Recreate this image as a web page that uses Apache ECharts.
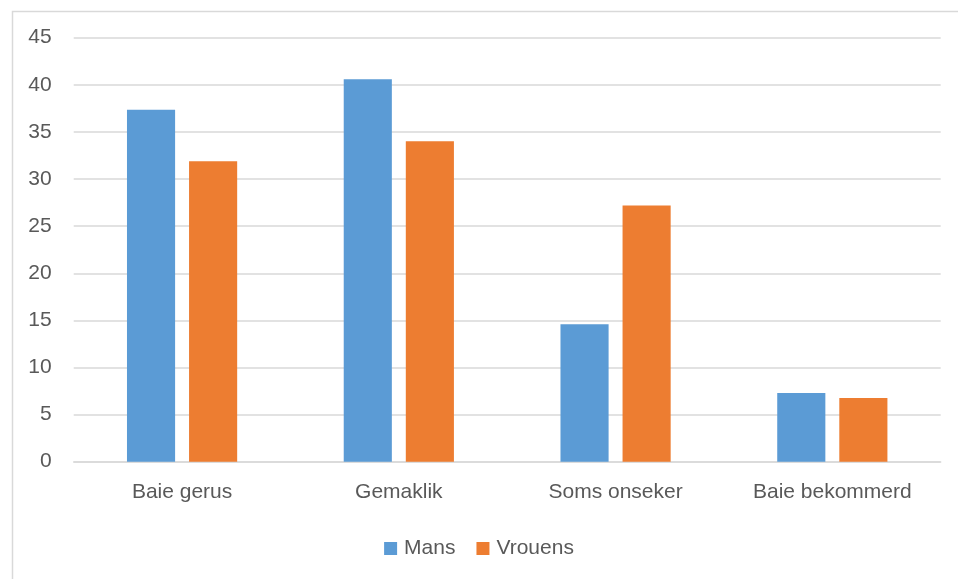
<!DOCTYPE html>
<html><head><meta charset="utf-8">
<script src="https://cdn.jsdelivr.net/npm/echarts@6/dist/echarts.min.js"></script>
<style>html,body{margin:0;padding:0;background:#fff}#c{width:958px;height:579px}</style>
</head><body><div id="c"></div>
<script>
const categories = ['Baie gerus', 'Gemaklik', 'Soms onseker', 'Baie bekommerd'];
const mans = [37.35, 40.6, 14.6, 7.3];
const vrouens = [31.9, 34.0, 27.2, 6.75];
const seriesNames = ['Mans', 'Vrouens'];

const chart = echarts.init(document.getElementById('c'), null, {renderer: 'canvas'});
const font = 'Liberation Sans';
chart.setOption({
  animation: false,
  backgroundColor: '#fff',
  graphic: [{
    type: 'rect', left: 10, top: 9, shape: {width: 947, height: 600},
    style: {fill: 'none', stroke: '#d9d9d9', lineWidth: 1.5}, silent: true
  }],
  grid: {left: 73.7, right: 17.3, top: 37.7, bottom: 117.3},
  legend: {
    data: seriesNames, top: 533, left: 'center', itemWidth: 13, itemHeight: 13, itemGap: 21,
    icon: 'rect',
    textStyle: {fontFamily: font, fontSize: 21, color: '#595959', padding: [0, 0, 0, 2]}
  },
  xAxis: {
    type: 'category', data: categories,
    axisLine: {lineStyle: {color: '#d9d9d9', width: 1.5}},
    axisTick: {show: false},
    axisLabel: {fontFamily: font, fontSize: 21, color: '#595959', margin: 20}
  },
  yAxis: {
    type: 'value', min: 0, max: 45, interval: 5,
    axisLine: {show: false}, axisTick: {show: false},
    splitLine: {lineStyle: {color: '#d9d9d9', width: 1.5}},
    axisLabel: {fontFamily: font, fontSize: 21, color: '#595959', margin: 22}
  },
  series: [
    {name: 'Mans', type: 'bar', data: mans, barWidth: '22.2%', barGap: '29%', itemStyle: {color: '#5B9BD5'}},
    {name: 'Vrouens', type: 'bar', data: vrouens, barWidth: '22.2%', itemStyle: {color: '#ED7D31'}}
  ]
});
</script></body></html>
